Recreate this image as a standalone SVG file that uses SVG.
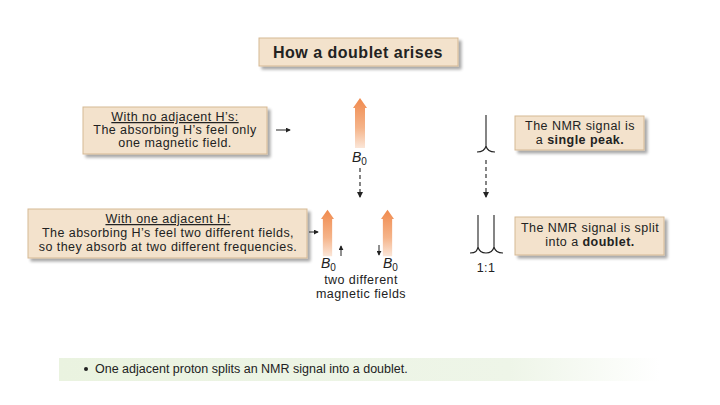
<svg xmlns="http://www.w3.org/2000/svg" width="720" height="405" viewBox="0 0 720 405">
<defs>
<linearGradient id="orange" x1="0" y1="0" x2="0" y2="1">
<stop offset="0" stop-color="#f08a4e"/>
<stop offset="0.6" stop-color="#f5b48a"/>
<stop offset="1" stop-color="#fbe6d8"/>
</linearGradient>
<linearGradient id="banner" x1="0" y1="0" x2="1" y2="0">
<stop offset="0" stop-color="#eaf3e0"/>
<stop offset="0.75" stop-color="#eef5e8"/>
<stop offset="1" stop-color="#ffffff"/>
</linearGradient>
<filter id="shadow" x="-10%" y="-20%" width="130%" height="160%">
<feGaussianBlur in="SourceAlpha" stdDeviation="1.5"/>
<feOffset dx="3" dy="3" result="b"/>
<feComponentTransfer><feFuncA type="linear" slope="0.35"/></feComponentTransfer>
<feMerge><feMergeNode/><feMergeNode in="SourceGraphic"/></feMerge>
</filter>
<marker id="ah" viewBox="0 0 6 6" refX="5" refY="3" markerWidth="5" markerHeight="5" orient="auto">
<path d="M0,0 L6,3 L0,6 Z" fill="#222"/>
</marker>
<symbol id="bigarrow" viewBox="0 0 14 50" overflow="visible">
<path d="M7,0 L14,10 L12,10 L12,50 L2,50 L2,10 L0,10 Z" fill="url(#orange)"/>
</symbol>
</defs>
<style>
.box{fill:#f3e2cc;stroke:#d5b994;stroke-width:1;filter:url(#shadow)}
.t{font-family:"Liberation Sans",Arial,sans-serif;font-size:12.5px;letter-spacing:0.45px;fill:#222;text-anchor:middle}
.tb{font-weight:bold}
.title{font-family:"Liberation Sans",Arial,sans-serif;font-size:16px;letter-spacing:0.5px;font-weight:bold;fill:#222;text-anchor:middle}
.conn{stroke:#222;stroke-width:1;fill:none}
.dash{stroke:#333;stroke-width:1.2;fill:none;stroke-dasharray:4,3}
.peak{stroke:#222;stroke-width:1.1;fill:none}
.b0{font-family:"Liberation Sans",Arial,sans-serif;font-size:14px;fill:#222}
</style>
<rect width="720" height="405" fill="#ffffff"/>

<g id="title">
<rect class="box" x="259" y="38" width="199" height="28"/>
<text class="title" x="358" y="58">How a doublet arises</text>
</g>

<g id="box-no-adjacent">
<rect class="box" x="83" y="107" width="184" height="47"/>
<text class="t" x="175" y="121" text-decoration="underline">With no adjacent H’s:</text>
<text class="t" x="175" y="134">The absorbing H’s feel only</text>
<text class="t" x="175" y="147">one magnetic field.</text>
</g>

<g id="box-one-adjacent">
<rect class="box" x="28" y="209" width="279" height="49"/>
<text class="t" x="168" y="223" text-decoration="underline">With one adjacent H:</text>
<text class="t" x="168" y="237">The absorbing H’s feel two different fields,</text>
<text class="t" x="168" y="251">so they absorb at two different frequencies.</text>
</g>

<g id="field-single">
<use href="#bigarrow" x="353" y="98" width="14" height="50"/>
<text class="b0" x="352" y="162"><tspan font-style="italic">B</tspan><tspan font-size="10" dy="3">0</tspan></text>
</g>

<g id="field-up">
<use href="#bigarrow" x="321" y="209" width="13" height="48"/>
<text class="b0" x="321" y="268"><tspan font-style="italic">B</tspan><tspan font-size="10" dy="3">0</tspan></text>
</g>

<g id="field-down">
<use href="#bigarrow" x="381" y="209" width="13" height="48"/>
<text class="b0" x="383" y="268"><tspan font-style="italic">B</tspan><tspan font-size="10" dy="3">0</tspan></text>
</g>

<g id="fields-label">
<text class="t" x="361" y="284" font-size="12px">two different</text>
<text class="t" x="361" y="298" font-size="12px">magnetic fields</text>
</g>

<g id="peak-single">
<path class="peak" d="M477,152 C483,152 485,150 486,146 L486,115 L486,146 C487,150 489,152 495,152"/>
</g>

<g id="peak-doublet">
<path class="peak" d="M470,253 C476,253 477,251 478,247 L478,215 L478,247 C479,251 482,253 486,253 C490,253 493,251 494,247 L494,215 L494,247 C495,251 497,253 503,253"/>
<text class="t" x="486" y="272" font-size="10.5px">1:1</text>
</g>

<g id="box-single-peak">
<rect class="box" x="515" y="116" width="129" height="34"/>
<text class="t" x="580" y="130">The NMR signal is</text>
<text class="t" x="580" y="144">a <tspan class="tb">single peak.</tspan></text>
</g>

<g id="box-doublet">
<rect class="box" x="515" y="217" width="149" height="38"/>
<text class="t" x="590" y="232">The NMR signal is split</text>
<text class="t" x="590" y="246">into a <tspan class="tb">doublet.</tspan></text>
</g>

<g id="connectors">
<line class="conn" x1="276" y1="130" x2="290" y2="130" marker-end="url(#ah)"/>
<line class="conn" x1="309" y1="232" x2="318" y2="232" marker-end="url(#ah)"/>
<line class="dash" x1="360" y1="168" x2="360" y2="197" marker-end="url(#ah)"/>
<line class="dash" x1="486" y1="160" x2="486" y2="197" marker-end="url(#ah)"/>
<line class="conn" x1="341" y1="256" x2="341" y2="246" marker-end="url(#ah)"/>
<line class="conn" x1="379" y1="245" x2="379" y2="255" marker-end="url(#ah)"/>
</g>

<g id="banner">
<rect x="59" y="358" width="601" height="23" fill="url(#banner)"/>
<circle cx="86" cy="369" r="2" fill="#222"/>
<text font-family="'Liberation Sans',Arial,sans-serif" font-size="12.5" fill="#222" x="95" y="373">One adjacent proton splits an NMR signal into a doublet.</text>
</g>
</svg>
